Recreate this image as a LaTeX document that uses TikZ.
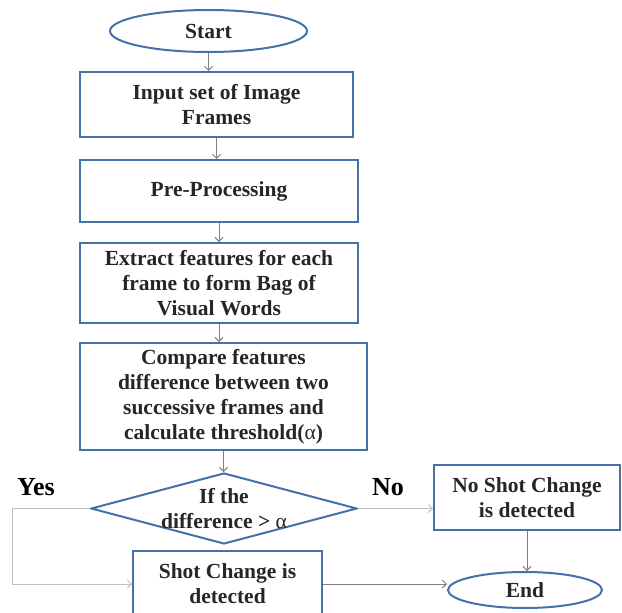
\documentclass[tikz,border=0pt]{standalone}
\usepackage{fontspec}
\setmainfont{Liberation Serif}
\usepackage{xcolor}
\usetikzlibrary{shapes.geometric, arrows.meta}

\definecolor{boxblue}{HTML}{4472A8}
\definecolor{arrowgray}{HTML}{7F7F7F}
\definecolor{linegray}{HTML}{BFBFBF}
\definecolor{textgray}{HTML}{262626}

\begin{document}
\begin{tikzpicture}[x=1pt, y=-1pt,
  box/.style={draw=boxblue, line width=2pt, align=center, inner sep=0pt,
    text=textgray, font=\bfseries\fontsize{21.5}{25}\selectfont},
  term/.style={box, ellipse},
  arr/.style={draw=arrowgray, line width=1pt, -{Straight Barb[length=4pt,width=8pt]}},
  branch/.style={arr, draw=linegray},
  answer/.style={font=\bfseries\fontsize{26}{30}\selectfont}]

\useasboundingbox (0,0) rectangle (622,613);

% main column
\node[term, minimum width=197pt, minimum height=42pt] (start) at (208.5,31) {Start};
\node[box, minimum width=273pt, minimum height=65pt] (input) at (216.5,104.5) {Input set of Image\\Frames};
\node[box, minimum width=278pt, minimum height=62pt] (pre) at (219,191) {Pre-Processing};
\node[box, minimum width=278pt, minimum height=80pt] (extract) at (219,283) {Extract features for each\\frame to form Bag of\\Visual Words};
\node[box, minimum width=287pt, minimum height=107pt] (compare) at (223.5,396.5) {Compare features\\difference between two\\successive frames and\\calculate threshold({\mdseries α})};

% decision
\node[diamond, draw=boxblue, line width=2pt, inner sep=0pt, minimum width=266pt, minimum height=71pt] (cond) at (224,508.5) {};
\node[box, draw=none] (condtext) at (cond.center) {If the\\difference > {\mdseries α}};
\node[answer] (yes) at (36,487) {Yes};
\node[answer] (no) at (388,487) {No};

% outcomes
\node[box, minimum width=186pt, minimum height=65pt] (nochange) at (527,497.5) {No Shot Change\\is detected};
\node[box, minimum width=189pt, minimum height=66pt] (change) at (227.5,584) {Shot Change is\\detected};
\node[term, minimum width=154pt, minimum height=36pt] (end) at (525,590) {End};

\draw[arr] (start.south) -- (start.south |- input.north);
\draw[arr] (input.south) -- (input.south |- pre.north);
\draw[arr] (pre.south) -- (pre.south |- extract.north);
\draw[arr] (extract.south) -- (extract.south |- compare.north);
\draw[arr] (compare.south) -- (compare.south |- cond.north);

\coordinate (yesturn) at (12,508.5);
\draw[branch] (cond.west) -- (yesturn) |- (change.west);
\draw[branch] (cond.east) -- (cond.east -| nochange.west);
\draw[arr] (nochange.south) -- (nochange.south |- end.north);
\draw[arr] (change.east) -- (change.east -| end.west);
\end{tikzpicture}
\end{document}
